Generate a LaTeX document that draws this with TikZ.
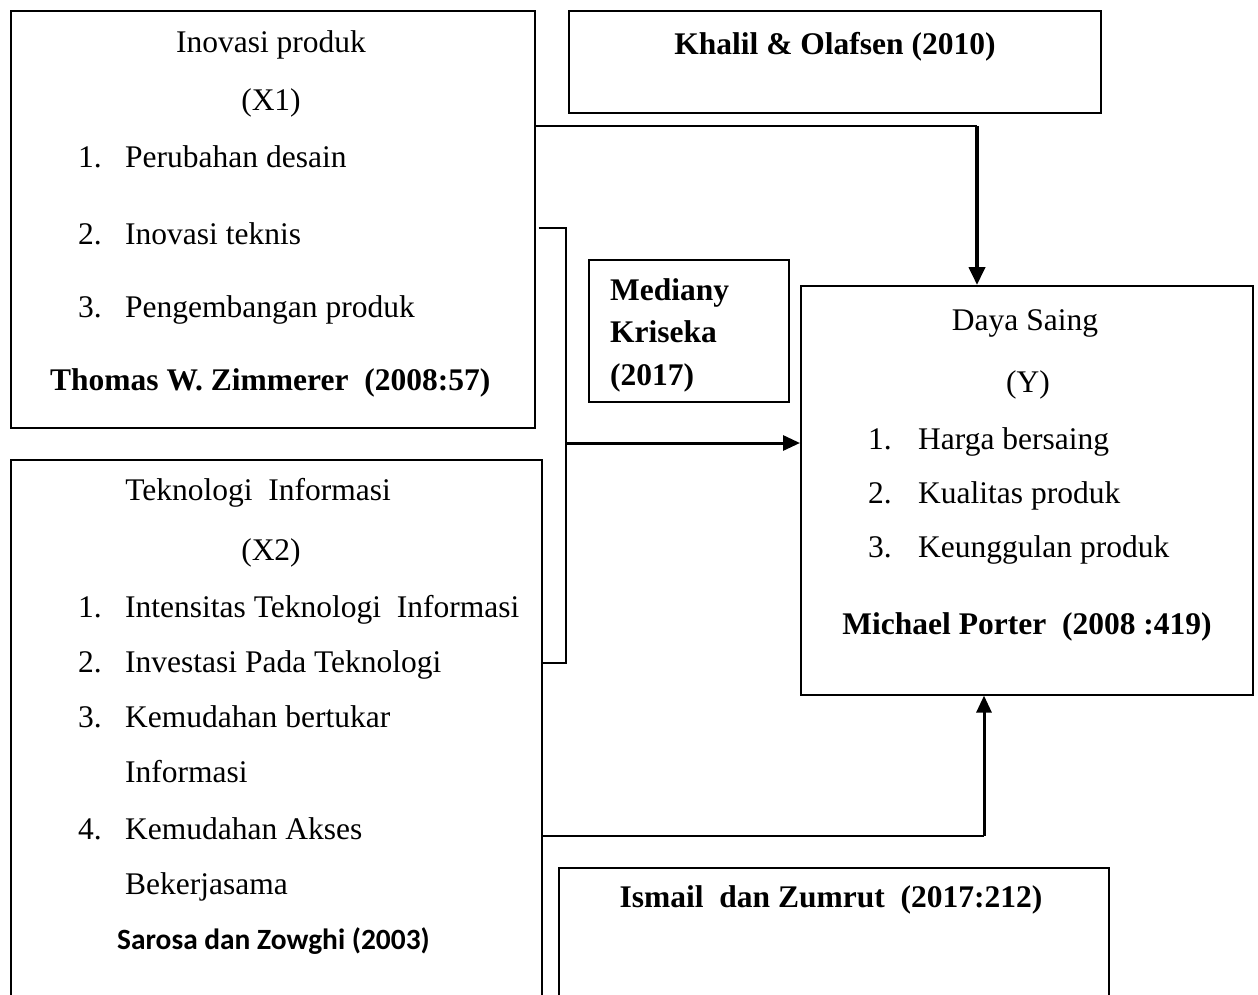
\documentclass[tikz,border=0pt]{standalone}
\usepackage{fontspec}
\setmainfont{Liberation Serif}
\newfontfamily\calibrifont{Carlito}
\usetikzlibrary{arrows.meta,calc}
\begin{document}
\begin{tikzpicture}[x=1pt,y=-1pt,
  box/.style={draw,line width=1.6pt,rectangle,anchor=north west,inner sep=0pt},
  txt/.style={inner sep=0pt,font=\fontsize{31.5}{37}\selectfont},
  btxt/.style={inner sep=0pt,font=\fontsize{31.5}{37}\selectfont\bfseries},
  thin/.style={line width=1.8pt},
  arr/.style={line width=3pt,-{Triangle[length=17pt,width=15pt]}},
  tarr/.style={line width=4pt,-{Triangle[length=18pt,width=16pt]}}]
\clip (0,0) rectangle (1258,994);
% boxes
\node[box,minimum width=524pt,minimum height=417pt] (x1) at (10,10) {};
\node[box,minimum width=531pt,minimum height=560pt] (x2) at (10,459) {};
\node[box,minimum width=532pt,minimum height=102pt] (kh) at (568,10) {};
\node[box,minimum width=200pt,minimum height=142pt] (md) at (588,259) {};
\node[box,minimum width=452pt,minimum height=409pt] (ds) at (800,285) {};
\node[box,minimum width=550pt,minimum height=150pt] (is) at (558,867) {};
% X1 text
\node[txt,anchor=base] at (271,52) {Inovasi produk};
\node[txt,anchor=base] at (271,110) {(X1)};
\node[txt,anchor=base west] at (78,167) {1.};
\node[txt,anchor=base west] at (125,167) {Perubahan desain};
\node[txt,anchor=base west] at (78,244) {2.};
\node[txt,anchor=base west] at (125,244) {Inovasi teknis};
\node[txt,anchor=base west] at (78,317) {3.};
\node[txt,anchor=base west] at (125,317) {Pengembangan produk};
\node[btxt,anchor=base west] at (50,390) {Thomas W. Zimmerer\ \ (2008:57)};
% X2 text
\node[txt,anchor=base] at (258,500) {Teknologi\ \ Informasi};
\node[txt,anchor=base] at (271,560) {(X2)};
\node[txt,anchor=base west] at (78,617) {1.};
\node[txt,anchor=base west] at (125,617) {Intensitas Teknologi\ \ Informasi};
\node[txt,anchor=base west] at (78,672) {2.};
\node[txt,anchor=base west] at (125,672) {Investasi Pada Teknologi};
\node[txt,anchor=base west] at (78,727) {3.};
\node[txt,anchor=base west] at (125,727) {Kemudahan bertukar};
\node[txt,anchor=base west] at (125,782) {Informasi};
\node[txt,anchor=base west] at (78,839) {4.};
\node[txt,anchor=base west] at (125,839) {Kemudahan Akses};
\node[txt,anchor=base west] at (125,894) {Bekerjasama};
\node[inner sep=0pt,anchor=base west,font=\fontsize{29.4}{34}\calibrifont\bfseries] at (117,949) {Sarosa dan Zowghi (2003)};
% Khalil
\node[btxt,anchor=base] at (835,54) {Khalil \& Olafsen (2010)};
% Mediany
\node[btxt,anchor=base west] at (610,300) {Mediany};
\node[btxt,anchor=base west] at (610,342) {Kriseka};
\node[btxt,anchor=base west] at (610,385) {(2017)};
% Daya Saing
\node[txt,anchor=base] at (1025,330) {Daya Saing};
\node[txt,anchor=base] at (1028,392) {(Y)};
\node[txt,anchor=base west] at (868,449) {1.};
\node[txt,anchor=base west] at (918,449) {Harga bersaing};
\node[txt,anchor=base west] at (868,503) {2.};
\node[txt,anchor=base west] at (918,503) {Kualitas produk};
\node[txt,anchor=base west] at (868,557) {3.};
\node[txt,anchor=base west] at (918,557) {Keunggulan produk};
\node[btxt,anchor=base] at (1027,634) {Michael Porter\ \ (2008 :419)};
% Ismail
\node[btxt,anchor=base] at (831,907) {Ismail\ \ dan Zumrut\ \ (2017:212)};
% connector coordinates
\coordinate (a1) at ($(x1.north east)+(0,116)$);
\coordinate (a2) at (977,126);
\coordinate (b1) at ($(x1.north east)+(3,218)$);
\coordinate (b2) at (566,228);
\coordinate (b3) at (566,663);
\coordinate (b4) at ($(x2.north east)+(0,204)$);
\coordinate (m1) at (566,443);
\coordinate (c1) at ($(x2.north east)+(0,377)$);
\coordinate (c2) at (984,836);
% connectors
\draw[thin] (a1) -- (a2);
\draw[tarr] (a2) -- (a2 |- ds.north);
\draw[thin] (b1) -- (b2) -- (b3) -- (b4);
\draw[arr] (m1) -- (m1 -| ds.west);
\draw[thin] (c1) -- (c2);
\draw[arr] (c2) -- (c2 |- ds.south);
\end{tikzpicture}
\end{document}
